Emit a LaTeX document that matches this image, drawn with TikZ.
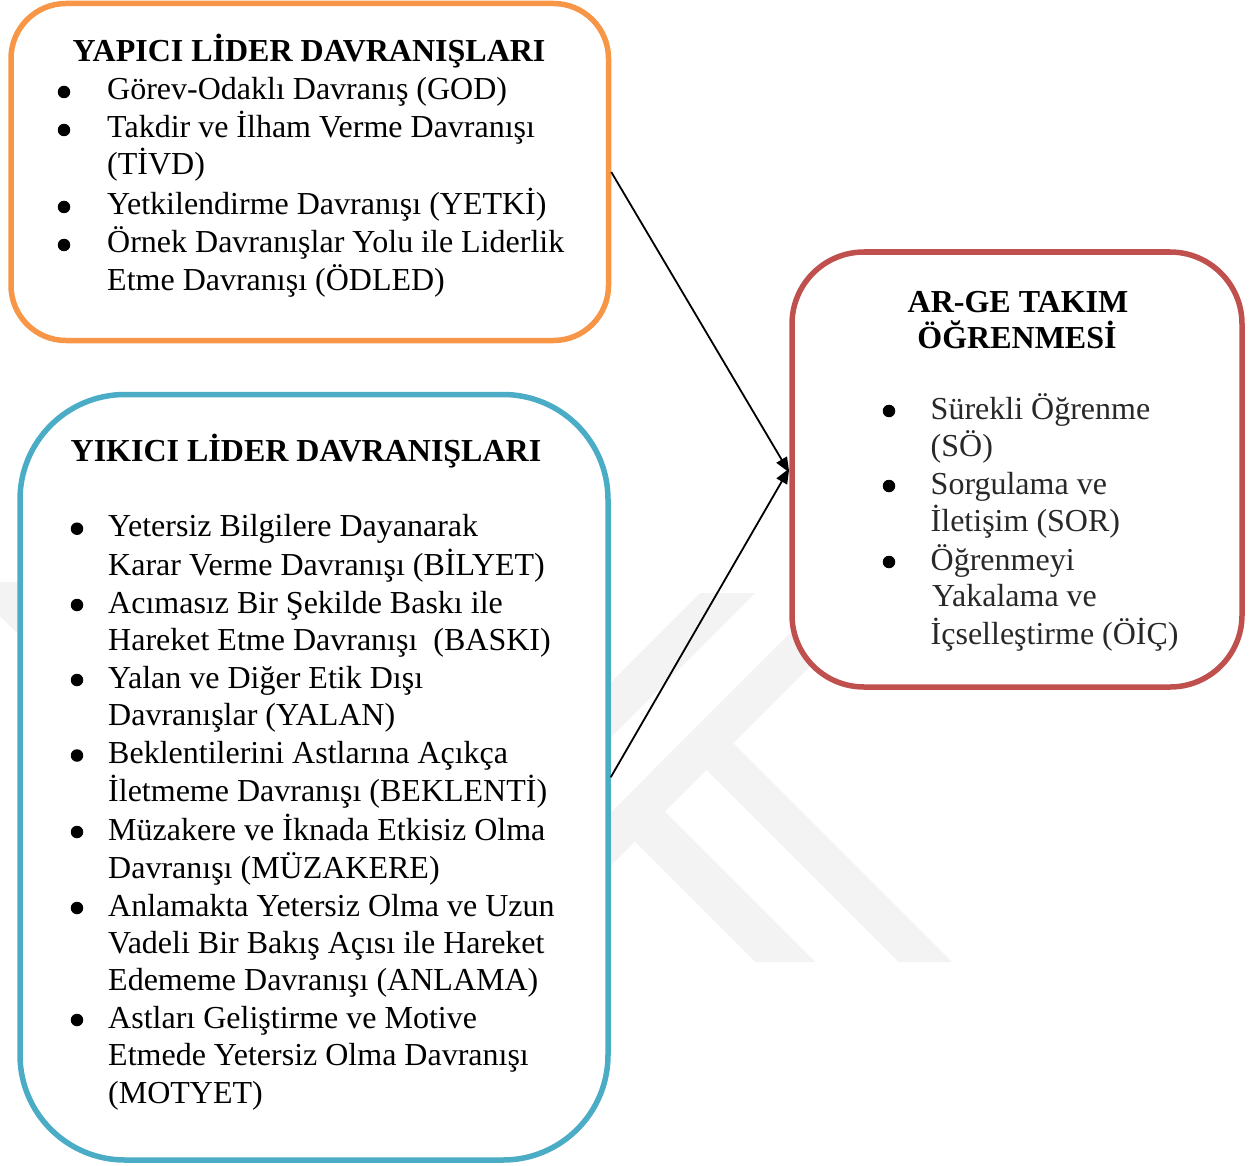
\documentclass[tikz,border=0pt]{standalone}
\usepackage{fontspec}
\setmainfont{Liberation Serif}
\usetikzlibrary{arrows.meta}
\definecolor{boxorange}{RGB}{247,150,70}
\definecolor{boxblue}{RGB}{75,172,198}
\definecolor{boxred}{RGB}{192,80,77}
\definecolor{wmark}{RGB}{243,243,243}
\definecolor{redtext}{RGB}{40,40,40}
\tikzset{
  box/.style={draw, line width=5.5pt, fill=white, rectangle, inner sep=0pt},
  ttl/.style={anchor=base, inner sep=0pt, font=\fontsize{32}{38}\selectfont\bfseries},
  txt/.style={anchor=base west, inner sep=0pt, font=\fontsize{32}{38}\selectfont},
  bul/.style={circle, fill=black, inner sep=0pt, minimum size=12.5pt, yshift=8pt},
  link/.style={line width=1.8pt, -{Triangle[length=15pt,width=12pt]}}
}
\begin{document}
\begin{tikzpicture}[x=1pt,y=-1pt]
\useasboundingbox (0,0) rectangle (1257,1166);
% faint watermark
\fill[wmark] (700,593) -- (755,593) -- (600,748.3) -- (600,693.3) -- cycle;
\fill[wmark] (830,593) -- (883.7,593) -- (600,876.7) -- (600,823.3) -- cycle;
\fill[wmark] (733.3,743.3) -- (706.7,770) -- (898.7,962) -- (952,962) -- cycle;
\fill[wmark] (665,811.7) -- (635,841.7) -- (755.3,962) -- (815.3,962) -- cycle;
\fill[wmark] (0,582) -- (17,582) -- (17,633) -- (0,616) -- cycle;
% boxes
\node[box, draw=boxorange, rounded corners=55pt, minimum width=597.5pt, minimum height=337pt] (yapici) at (309.75,172) {};
\node[box, draw=boxblue, rounded corners=105pt, minimum width=588pt, minimum height=765.5pt] (yikici) at (314,777.25) {};
\node[box, draw=boxred, rounded corners=72pt, minimum width=450pt, minimum height=435pt] (arge) at (1017,469.5) {};
% connectors
\draw[link] (yapici.east) -- ([yshift=-3pt]arge.west);
\draw[link] (yikici.east) -- ([yshift=1pt]arge.west);
% orange box text
\node[ttl] (yt) at (309,61.7) {YAPICI LİDER DAVRANIŞLARI};
\node[bul] (yb1) at (64,100) {};
\node[txt] (y1) at (107,100) {Görev-Odaklı Davranış (GOD)};
\node[bul] (yb2) at (64,138) {};
\node[txt] (y2a) at (107,138) {Takdir ve İlham Verme Davranışı};
\node[txt] (y2b) at (107,175) {(TİVD)};
\node[bul] (yb3) at (64,215) {};
\node[txt] (y3) at (107,215) {Yetkilendirme Davranışı (YETKİ)};
\node[bul] (yb4) at (64,253) {};
\node[txt] (y4a) at (107,253) {Örnek Davranışlar Yolu ile Liderlik};
\node[txt] (y4b) at (107,290) {Etme Davranışı (ÖDLED)};
% blue box text
\node[ttl] (kt) at (306,461.7) {YIKICI LİDER DAVRANIŞLARI};
\node[bul] (kb1) at (77,536.7) {};
\node[txt] (k1a) at (108,536.7) {Yetersiz Bilgilere Dayanarak};
\node[txt] (k1b) at (108,575) {Karar Verme Davranışı (BİLYET)};
\node[bul] (kb2) at (77,613) {};
\node[txt] (k2a) at (108,613) {Acımasız Bir Şekilde Baskı ile};
\node[txt] (k2b) at (108,650.7) {Hareket Etme Davranışı~ (BASKI)};
\node[bul] (kb3) at (77,688) {};
\node[txt] (k3a) at (108,688) {Yalan ve Diğer Etik Dışı};
\node[txt] (k3b) at (108,725.5) {Davranışlar (YALAN)};
\node[bul] (kb4) at (77,763.5) {};
\node[txt] (k4a) at (108,763.5) {Beklentilerini Astlarına Açıkça};
\node[txt] (k4b) at (108,801.7) {İletmeme Davranışı (BEKLENTİ)};
\node[bul] (kb5) at (77,840) {};
\node[txt] (k5a) at (108,840) {Müzakere ve İknada Etkisiz Olma};
\node[txt] (k5b) at (108,878) {Davranışı (MÜZAKERE)};
\node[bul] (kb6) at (77,916) {};
\node[txt] (k6a) at (108,916) {Anlamakta Yetersiz Olma ve Uzun};
\node[txt] (k6b) at (108,953) {Vadeli Bir Bakış Açısı ile Hareket};
\node[txt] (k6c) at (108,990) {Edememe Davranışı (ANLAMA)};
\node[bul] (kb7) at (77,1028) {};
\node[txt] (k7a) at (108,1028) {Astları Geliştirme ve Motive};
\node[txt] (k7b) at (108,1065) {Etmede Yetersiz Olma Davranışı};
\node[txt] (k7c) at (108,1103) {(MOTYET)};
% red box text
\node[ttl] (at1) at (1018,312) {AR-GE TAKIM};
\node[ttl] (at2) at (1017,348) {ÖĞRENMESİ};
\node[bul] (ab1) at (889,419) {};
\node[txt, text=redtext] (a1a) at (930.5,419) {Sürekli Öğrenme};
\node[txt, text=redtext] (a1b) at (930.5,456) {(SÖ)};
\node[bul] (ab2) at (889,494) {};
\node[txt, text=redtext] (a2a) at (930.5,494) {Sorgulama ve};
\node[txt, text=redtext] (a2b) at (930.5,531) {İletişim (SOR)};
\node[bul] (ab3) at (889,570) {};
\node[txt, text=redtext] (a3a) at (930.5,570) {Öğrenmeyi};
\node[txt, text=redtext] (a3b) at (932,606) {Yakalama ve};
\node[txt, text=redtext] (a3c) at (930.5,644) {İçselleştirme (ÖİÇ)};
\end{tikzpicture}
\end{document}
